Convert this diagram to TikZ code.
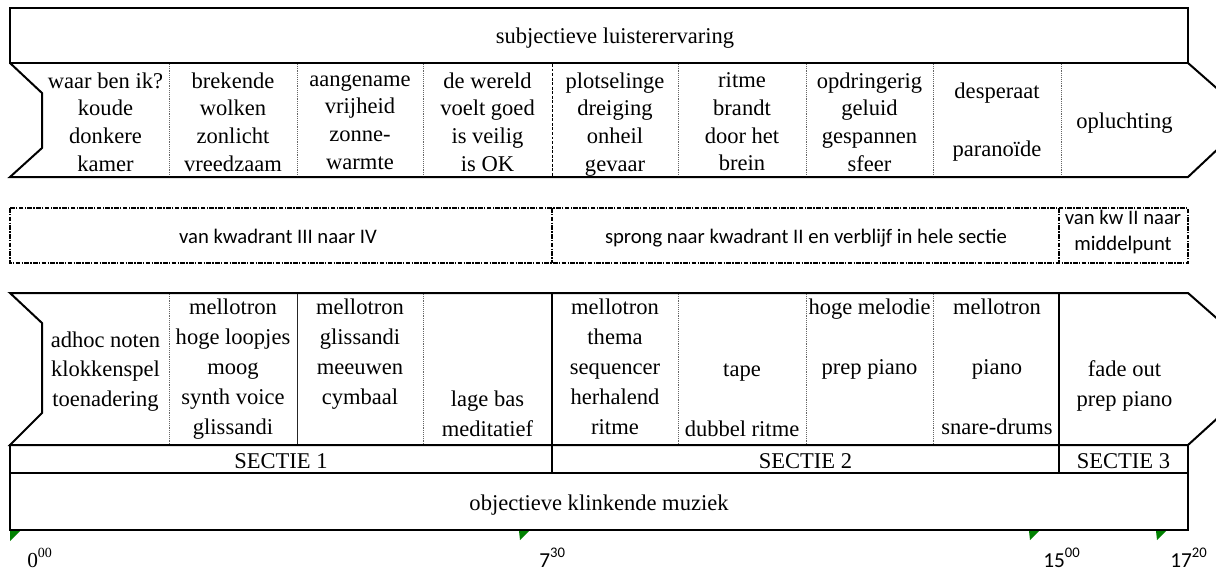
\documentclass[tikz,border=0pt]{standalone}
\usepackage{fontspec}
\setmainfont{Liberation Serif}
\newfontfamily\calfont{Carlito}
\tikzset{
  frame/.style={line width=1.5pt, line join=miter},
  dotsep/.style={line width=0.6pt, black!60, dash pattern=on 0.7pt off 0.7pt},
  dashsep/.style={line width=0.6pt, black, dash pattern=on 2.2pt off 1.2pt},
  solidsep/.style={line width=0.7pt, black!85},
  dashdotbox/.style={line width=1.1pt, dash pattern=on 3.5pt off 1pt on 1pt off 1pt},
  txt/.style={inner sep=0pt, font=\fontsize{16.9}{20.78}\selectfont},
  topcell/.style={inner sep=0pt, align=center, font=\fontsize{16.9}{20.78}\selectfont,
    execute at begin node=\strut, execute at end node=\strut},
  botcell/.style={inner sep=0pt, align=center, font=\fontsize{16.9}{22.4}\selectfont,
    execute at begin node=\strut, execute at end node=\strut},
  caltxt/.style={inner sep=0pt, align=center, font=\calfont\fontsize{15.5}{19.5}\selectfont,
    execute at begin node=\strut, execute at end node=\strut},
  tickmark/.style={fill=green!50!black, draw=none},
  timelbl/.style={inner sep=0pt, anchor=base west},
}
\begin{document}
\begin{tikzpicture}[x=0.75pt,y=-0.75pt]
\useasboundingbox (0,0) rectangle (1216,572);

% ---------- subjective part ----------
\draw[frame] (10,8) rectangle (1188,63);
\node[txt, anchor=base] (title) at (615,43.3) {subjectieve luisterervaring};

\draw[frame] (10,63) -- (42,93) -- (42,148) -- (10,177) -- (1188,177)
  -- (1221,146) -- (1221,92) -- (1188,63);
\foreach \x in {169,297,423,678,806,933,1061}
  \draw[dotsep] (\x,64) -- (\x,176);
\draw[dashsep] (552,64) -- (552,176);

\node[topcell] (t1) at (105.5,126) {waar ben ik?\\koude\\donkere\\kamer};
\node[topcell] (t2) at (233,126) {brekende\\wolken\\zonlicht\\vreedzaam};
\node[topcell] (t3) at (360,126) {aangename\\vrijheid\\zonne-\\warmte};
\node[topcell] (t4) at (487.5,126) {de wereld\\voelt goed\\is veilig\\is OK};
\node[topcell] (t5) at (615,126) {plotselinge\\dreiging\\onheil\\gevaar};
\node[topcell] (t6) at (742,126) {ritme\\brandt\\door het\\brein};
\node[topcell] (t7) at (869.5,126) {opdringerig\\geluid\\gespannen\\sfeer};
\node[topcell] (t8) at (997,124) {desperaat\\[22.7pt]paranoïde};
\node[txt, anchor=base] (t9) at (1124.5,128) {opluchting};

% ---------- quadrant row ----------
\draw[dashdotbox] (10,208) rectangle (1188,263);
\draw[dashdotbox] (552,208) -- (552,263);
\draw[dashdotbox] (1059,208) -- (1059,263);
\node[caltxt, anchor=base, execute at begin node={}, execute at end node={}] (d1) at (278,243.3) {van kwadrant III naar IV};
\node[caltxt, anchor=base, execute at begin node={}, execute at end node={}] (d2) at (806,243.3) {sprong naar kwadrant II en verblijf in hele sectie};
\node[caltxt] (d3) at (1123,234.5) {van kw II naar\\middelpunt};

% ---------- objective part ----------
\draw[frame] (10,293) -- (1188,293) -- (1221,322) -- (1221,415) -- (1188,445)
  -- (10,445) -- (42,413) -- (42,323) -- cycle;
\foreach \x in {169,423,678,806,933}
  \draw[dotsep] (\x,294) -- (\x,444);
\draw[solidsep] (297,294) -- (297,444);
\draw[frame] (10,445) rectangle (1188,473);
\draw[frame] (10,473) rectangle (1188,530);
\draw[frame] (552,293) -- (552,473);
\draw[frame] (1059,293) -- (1059,473);

\node[botcell] (b1) at (105.5,371) {\strut\\adhoc noten\\klokkenspel\\toenadering\\\strut};
\node[botcell] (b2) at (233,371) {mellotron\\hoge loopjes\\moog\\synth voice\\glissandi};
\node[botcell] (b3) at (360,371) {mellotron\\glissandi\\meeuwen\\cymbaal\\\strut};
\node[botcell] (b4) at (487.5,371) {\strut\\\strut\\\strut\\lage bas\\meditatief};
\node[botcell] (b5) at (615,371) {mellotron\\thema\\sequencer\\herhalend\\ritme};
\node[botcell] (b6) at (742,371) {\strut\\\strut\\tape\\\strut\\dubbel ritme};
\node[botcell] (b7) at (869.5,371) {hoge melodie\\\strut\\prep piano\\\strut\\\strut};
\node[botcell] (b8) at (997,371) {mellotron\\\strut\\piano\\\strut\\snare-drums};
\node[botcell] (b9) at (1124.5,371) {\strut\\\strut\\fade out\\prep piano\\\strut};

\node[txt, anchor=base] (s1) at (281,468.3) {SECTIE 1};
\node[txt, anchor=base] (s2) at (805.5,468.3) {SECTIE 2};
\node[txt, anchor=base] (s3) at (1123.5,468.3) {SECTIE 3};
\node[txt, anchor=base] (obj) at (599,510) {objectieve klinkende muziek};

% ---------- time axis ----------
\fill[tickmark] (10,531) -- (20,531) -- (10,541) -- cycle;
\fill[tickmark] (519,531) -- (529,531) -- (520,540) -- cycle;
\fill[tickmark] (1029,531) -- (1039,531) -- (1030,540) -- cycle;
\fill[tickmark] (1156,531) -- (1166,531) -- (1157,540) -- cycle;

\node[timelbl, font=\fontsize{16}{18}\selectfont] (l0) at (27,567.5)
  {0\raisebox{7.5pt}{\fontsize{10.5}{12}\selectfont 00}};
\node[timelbl, font=\calfont\fontsize{16}{18}\selectfont] (l1) at (539,567.5)
  {7\raisebox{7.5pt}{\fontsize{11}{12}\selectfont 30}};
\node[timelbl, font=\calfont\fontsize{16}{18}\selectfont] (l2) at (1043,567.5)
  {15\raisebox{7.5pt}{\fontsize{11}{12}\selectfont 00}};
\node[timelbl, font=\calfont\fontsize{16}{18}\selectfont] (l3) at (1170,567.5)
  {17\raisebox{7.5pt}{\fontsize{11}{12}\selectfont 20}};
\end{tikzpicture}
\end{document}
